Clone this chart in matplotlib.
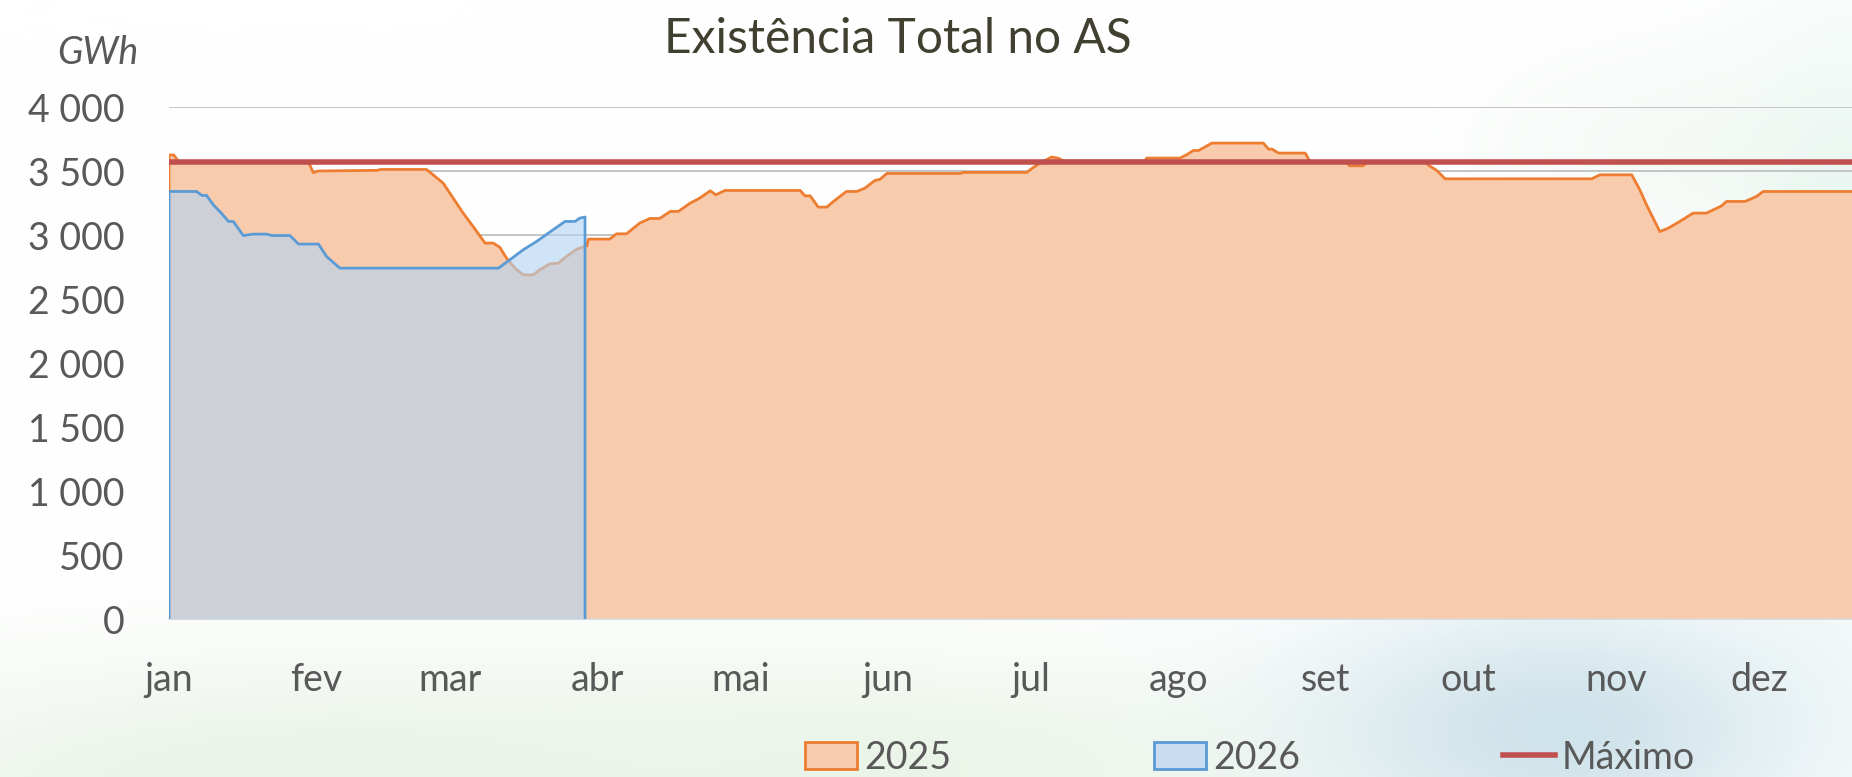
import numpy as np
import matplotlib
matplotlib.use("Agg")
import matplotlib.pyplot as plt
from matplotlib.patches import Patch
from matplotlib.lines import Line2D

plt.rcParams["font.family"] = ["Lato", "DejaVu Sans"]

# ---- data (x = day of year, y = GWh) ----
MONTHS = ["jan", "fev", "mar", "abr", "mai", "jun", "jul", "ago", "set", "out", "nov", "dez"]
MONTH_DAYS = [0, 31, 59, 90, 120, 151, 181, 212, 243, 273, 304, 334]

Y_TICKS = [0, 500, 1000, 1500, 2000, 2500, 3000, 3500, 4000]
Y_LABELS = ["0", "500", "1 000", "1 500", "2 000", "2 500", "3 000", "3 500", "4 000"]

DAYS_2025 = [0, 1, 2, 29.3, 30.3, 31.4, 43.6, 44.5, 54.1, 55.5, 57.6, 59.7, 61.8,
             63.9, 66.4, 68.1, 69.5, 70.9, 72.7, 74.4, 76.5, 77.9, 80.0, 81.8, 83.5,
             85.7, 87.8, 88.1, 92.6, 94.0, 96.1, 98.9, 101.0, 103.1, 105.3, 107.0,
             109.5, 111.5, 113.7, 114.9, 116.8, 132.6, 133.6, 134.7, 136.4, 138.2,
             139.6, 142.3, 144.5, 146.2, 148.3, 149.4, 150.8, 166.2, 166.9, 180.2,
             180.9, 181.6, 183.0, 185.4, 186.8, 188.0, 205.0, 205.4, 212.4, 213.8,
             215.2, 216.3, 219.1, 229.9, 231.0, 231.7, 233.1, 238.7, 239.7, 247.4,
             248.0, 250.9, 251.6, 264.2, 264.6, 266.3, 268.1, 298.9, 300.6, 307.3,
             309.0, 310.4, 313.2, 315.0, 317.4, 320.2, 323.0, 326.2, 327.2, 331.1,
             333.5, 334.9, 365]
GWH_2025 = [3625, 3625, 3575, 3570, 3488, 3500, 3505, 3512, 3512, 3470, 3405, 3288, 3171,
            3066, 2937, 2937, 2904, 2820, 2741, 2689, 2689, 2728, 2775, 2780, 2832,
            2890, 2916, 2968, 2968, 3009, 3009, 3093, 3129, 3129, 3184, 3184,
            3249, 3288, 3345, 3314, 3348, 3348, 3306, 3306, 3218, 3218,
            3262, 3340, 3340, 3366, 3426, 3435, 3481, 3481, 3489, 3489,
            3509, 3528, 3562, 3609, 3600, 3578, 3578, 3601, 3601, 3627,
            3660, 3660, 3718, 3718, 3671, 3671, 3640, 3640, 3575, 3570,
            3541, 3541, 3570, 3570, 3545, 3505, 3439, 3439, 3470, 3470,
            3353, 3236, 3027, 3054, 3106, 3171, 3171, 3228, 3262, 3262,
            3301, 3340, 3340]

DAYS_2026 = [0, 5.8, 6.9, 7.9, 9.3, 11.1, 12.5, 13.5, 15.6, 17.7, 20.5, 21.6, 25.4,
             27.2, 31.4, 33.1, 35.9, 69.2, 71.6, 74.4, 77.2, 80.7, 83.2, 85.3, 86.3, 87.4]
GWH_2026 = [3340, 3340, 3309, 3309, 3236, 3166, 3106, 3106, 2996, 3007, 3007, 2996, 2996,
            2929, 2929, 2832, 2741, 2741, 2806, 2884, 2949, 3041, 3106, 3106, 3132, 3140]

MAXIMO = 3572

ORANGE_LINE = "#ED7D31"
ORANGE_FILL = "#F8CBAD"
BLUE_LINE = "#5B9BD5"
BLUE_FILL = "#B2D4F5"
RED = "#C0504D"
TEXT = "#595959"

W, H = 1852, 777
fig = plt.figure(figsize=(W / 100, H / 100), dpi=100)

# soft slide background
yy, xx = np.mgrid[0:H:4, 0:W:4].astype(float)
img = np.ones(xx.shape + (3,))
for cx, cy, sx, sy, col, s in [
    (300, 790, 520, 130, (228, 240, 226), 0.8),
    (900, 770, 420, 110, (232, 243, 228), 0.8),
    (1560, 730, 260, 130, (202, 224, 232), 0.9),
    (1852, 320, 110, 260, (214, 240, 232), 0.7),
    (1700, 150, 220, 110, (236, 245, 238), 0.5),
]:
    w = s * np.exp(-(((xx - cx) / sx) ** 2 + ((yy - cy) / sy) ** 2))
    img = img * (1 - w[..., None]) + (np.array(col) / 255.0) * w[..., None]
bg = fig.add_axes([0, 0, 1, 1], zorder=-10)
bg.imshow(img, extent=[0, 1, 0, 1], aspect="auto", interpolation="bilinear")
bg.axis("off")

left_px, right_px, top_px, bot_px = 169, 1852, 107, 619
ax = fig.add_axes([left_px / W, 1 - bot_px / H, (right_px - left_px) / W, (bot_px - top_px) / H])
ax.set_facecolor("none")

px_per_day = 4.76
ax.set_xlim(0, (right_px - left_px) / px_per_day)
ax.set_ylim(0, 4000)

# 2025 area
ax.fill_between(DAYS_2025, GWH_2025, 0, color=ORANGE_FILL, lw=0, zorder=1)
ax.plot([DAYS_2025[0]] + DAYS_2025, [0] + GWH_2025, color=ORANGE_LINE, lw=2.0, zorder=2)

# 2026 area (semi-transparent, on top)
ax.fill_between(DAYS_2026, GWH_2026, 0, color=BLUE_FILL, alpha=0.6, lw=0, zorder=3)
ax.plot([DAYS_2026[0]] + DAYS_2026 + [DAYS_2026[-1]], [0] + GWH_2026 + [0],
        color=BLUE_LINE, lw=2.0, zorder=4)

# maximum
ax.axhline(MAXIMO, color=RED, lw=4.0, zorder=5)

ax.set_yticks(Y_TICKS, Y_LABELS)
ax.set_xticks(MONTH_DAYS, MONTHS)
ax.tick_params(axis="y", length=0, pad=32, labelsize=27, labelcolor=TEXT)
ax.tick_params(axis="x", length=0, pad=31, labelsize=27, labelcolor=TEXT)
ax.yaxis.grid(True, color="#C4C4C4", lw=1.4)
ax.set_axisbelow(True)
for s in ["left", "right", "top"]:
    ax.spines[s].set_visible(False)
ax.spines["bottom"].set_color("#D9D9D9")
ax.spines["bottom"].set_linewidth(1.2)

fig.text(898 / W, 1 - 39 / H, "Existência Total no AS", ha="center", va="center",
         fontsize=34.5, color="#403F30")
fig.text(98 / W, 1 - 53 / H, "GWh", ha="center", va="center", fontsize=27,
         style="italic", color=TEXT)

handles = [
    Patch(facecolor=ORANGE_FILL, edgecolor=ORANGE_LINE, lw=2),
    Patch(facecolor="#C9DDF2", edgecolor=BLUE_LINE, lw=2),
    Line2D([], [], color=RED, lw=4),
]
fig.legend(handles, ["2025", "2026", "Máximo"], loc="center", bbox_to_anchor=(0.675, 0.025),
           ncol=3, frameon=False, fontsize=27, labelcolor=TEXT, handlelength=1.39,
           handleheight=0.7, handletextpad=0.19, columnspacing=5.4)

fig.savefig("out.png", dpi=100)
